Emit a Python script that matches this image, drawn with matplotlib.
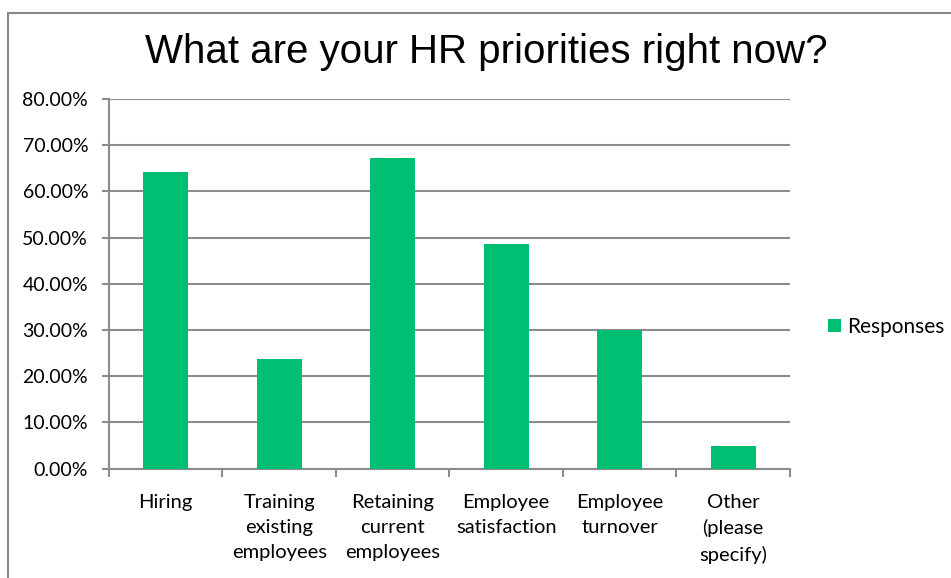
import numpy as np
import matplotlib.pyplot as plt
from matplotlib.patches import Rectangle
from matplotlib.ticker import PercentFormatter

# Survey results: share of respondents naming each priority
categories = ["Hiring", "Training\nexisting\nemployees", "Retaining\ncurrent\nemployees",
              "Employee\nsatisfaction", "Employee\nturnover", "Other\n(please\nspecify)"]
responses = [64.1, 23.7, 67.3, 48.7, 30.0, 4.9]
y_ticks = [0, 10, 20, 30, 40, 50, 60, 70, 80]

green = "#00BE72"
grid_grey = "#8C8C8C"
label_font = ["Lato", "DejaVu Sans"]

fig = plt.figure(figsize=(9.51, 5.78), dpi=100)
ax = fig.add_axes([0.1146, 0.1894, 0.7161, 0.6393])

x = np.arange(len(categories))
bars = ax.bar(x, responses, width=0.4, color=green, label="Responses", zorder=3)

ax.set_xlim(-0.5, len(categories) - 0.5)
ax.set_ylim(0, 80)
ax.set_yticks(y_ticks)
ax.yaxis.set_major_formatter(PercentFormatter(decimals=2))
ax.grid(axis="y", color=grid_grey, linewidth=1.5, zorder=0)
ax.set_axisbelow(True)

for side in ["top", "right"]:
    ax.spines[side].set_visible(False)
for side in ["left", "bottom"]:
    ax.spines[side].set_color(grid_grey)
    ax.spines[side].set_linewidth(1.5)

# category labels between boundary ticks
ax.set_xticks(np.arange(len(categories) + 1) - 0.5)
ax.set_xticklabels([])
ax.set_xticks(x, minor=True)
ax.set_xticklabels(categories, minor=True, family=label_font, fontsize=14.5,
                   linespacing=1.58, va="top")
ax.tick_params(axis="x", which="major", length=6, width=1.5, color=grid_grey)
ax.tick_params(axis="x", which="minor", length=0, pad=18)
ax.tick_params(axis="y", length=5, width=1.5, color=grid_grey, pad=10)
for lbl in ax.get_yticklabels():
    lbl.set_family(label_font)
    lbl.set_fontsize(14)

fig.text(0.511, 0.91, "What are your HR priorities right now?", ha="center",
         va="center", family="Liberation Sans", fontsize=29)

leg = fig.legend(handles=[bars], labels=["Responses"], loc="center left",
                 bbox_to_anchor=(0.871, 0.434), frameon=False, handlelength=0.6,
                 handleheight=0.6, handletextpad=0.3, borderpad=0, borderaxespad=0,
                 prop={"family": label_font, "size": 15})

# outer chart border
fig.patches.append(Rectangle((8 / 951, -0.1), 1.2, 1 - 13 / 578 + 0.1,
                             transform=fig.transFigure, fill=False,
                             edgecolor="#888888", linewidth=1.5))

fig.savefig("out.png", dpi=100)
